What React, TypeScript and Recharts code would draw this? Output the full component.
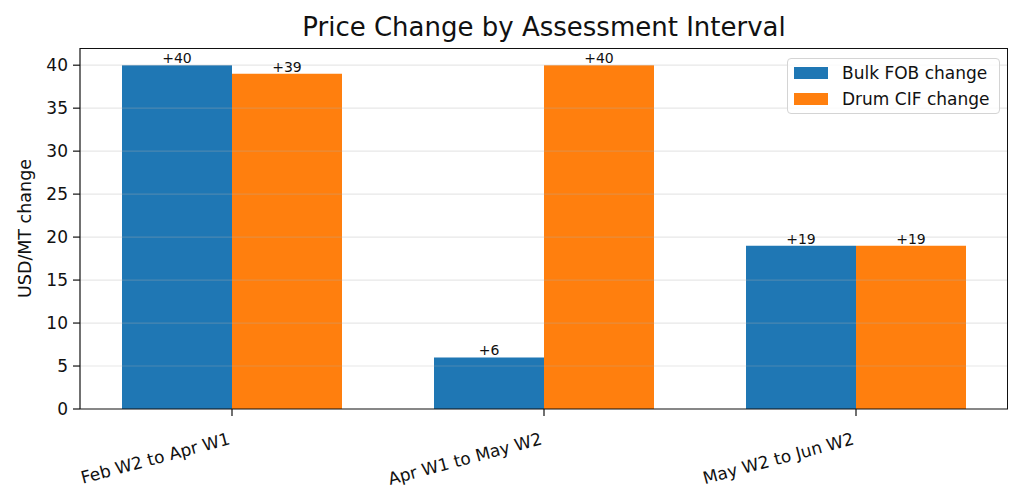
import { Bar, BarChart, LabelList, Legend, ReferenceLine, XAxis, YAxis } from "recharts";

const intervals = ["Feb W2 to Apr W1", "Apr W1 to May W2", "May W2 to Jun W2"];
const bulkFob = [40, 6, 19];
const drumCif = [39, 40, 19];
const yTicks = [0, 5, 10, 15, 20, 25, 30, 35, 40];

const data = intervals.map((name, i) => ({ name, bulk: bulkFob[i], drum: drumCif[i] }));

const FONT = "DejaVu Sans, sans-serif";
const INK = "#111";

function XTick(props: any) {
  const { x, y, payload } = props;
  return (
    <g transform={`translate(${x - 1},${y + 26})`}>
      <text textAnchor="end" transform="rotate(-15)" fontSize={17} fill={INK} fontFamily={FONT}>
        {payload.value}
      </text>
    </g>
  );
}

function LegendBox(props: any) {
  const items = props.payload || [];
  return (
    <div
      style={{
        boxSizing: "border-box",
        width: 213,
        border: "1px solid #d4d4d4",
        borderRadius: 4,
        background: "rgba(255,255,255,0.8)",
        padding: "1px 6px",
        fontFamily: FONT,
        fontSize: 17,
        color: INK,
      }}
    >
      {items.map((it: any) => (
        <div key={it.value} style={{ display: "flex", alignItems: "center", height: 26 }}>
          <span style={{ width: 34, height: 12, background: it.color, display: "inline-block", marginRight: 14 }} />
          <span>{it.value}</span>
        </div>
      ))}
    </div>
  );
}

export default function App() {
  return (
    <div style={{ position: "absolute", left: 0, top: 0, width: 1024, height: 497, background: "#fff" }}>
      <div
        style={{
          position: "absolute",
          left: 80,
          width: 928,
          top: 12,
          textAlign: "center",
          fontFamily: FONT,
          fontSize: 26,
          color: INK,
          whiteSpace: "nowrap",
        }}
      >
        Price Change by Assessment Interval
      </div>
      <BarChart
        width={1024}
        height={497}
        data={data}
        margin={{ top: 48, right: 16, left: 10, bottom: 18 }}
        barSize={110}
        barGap={0}
      >
        <XAxis
          dataKey="name"
          height={70}
          padding={{ left: -4, right: -4 }}
          tick={<XTick />}
          tickLine={{ stroke: INK, strokeWidth: 1.2 }}
          tickSize={7}
          axisLine={{ stroke: INK, strokeWidth: 1.2 }}
          interval={0}
        />
        <YAxis
          domain={[0, 42]}
          ticks={yTicks}
          width={70}
          tickSize={7}
          tickMargin={5}
          tick={{ fontSize: 17, fill: INK, fontFamily: FONT }}
          tickLine={{ stroke: INK, strokeWidth: 1.2 }}
          axisLine={{ stroke: INK, strokeWidth: 1.2 }}
          label={{
            value: "USD/MT change",
            angle: -90,
            position: "insideLeft",
            offset: 15,
            style: { textAnchor: "middle", fontSize: 17.5, fill: INK, fontFamily: FONT },
          }}
        />
        <Legend
          layout="vertical"
          align="center"
          verticalAlign="middle"
          wrapperStyle={{ top: 58, left: 787, width: 213 }}
          content={<LegendBox />}
        />
        <Bar dataKey="bulk" name="Bulk FOB change" fill="#1f77b4" isAnimationActive={false}>
          <LabelList
            dataKey="bulk"
            position="top"
            offset={2}
            formatter={(v: any) => `+${v}`}
            style={{ fontSize: 14, fill: INK, fontFamily: FONT }}
          />
        </Bar>
        <Bar dataKey="drum" name="Drum CIF change" fill="#ff7f0e" isAnimationActive={false}>
          <LabelList
            dataKey="drum"
            position="top"
            offset={2}
            formatter={(v: any) => `+${v}`}
            style={{ fontSize: 14, fill: INK, fontFamily: FONT }}
          />
        </Bar>
        {yTicks.slice(1).map((t) => (
          <ReferenceLine key={t} y={t} stroke="#b0b0b0" strokeOpacity={0.3} strokeWidth={1.2} />
        ))}
      </BarChart>
      <div
        style={{
          position: "absolute",
          left: 80,
          top: 48,
          width: 928,
          height: 361,
          boxSizing: "border-box",
          borderTop: `1.2px solid ${INK}`,
          borderRight: `1.2px solid ${INK}`,
          pointerEvents: "none",
        }}
      />
    </div>
  );
}
